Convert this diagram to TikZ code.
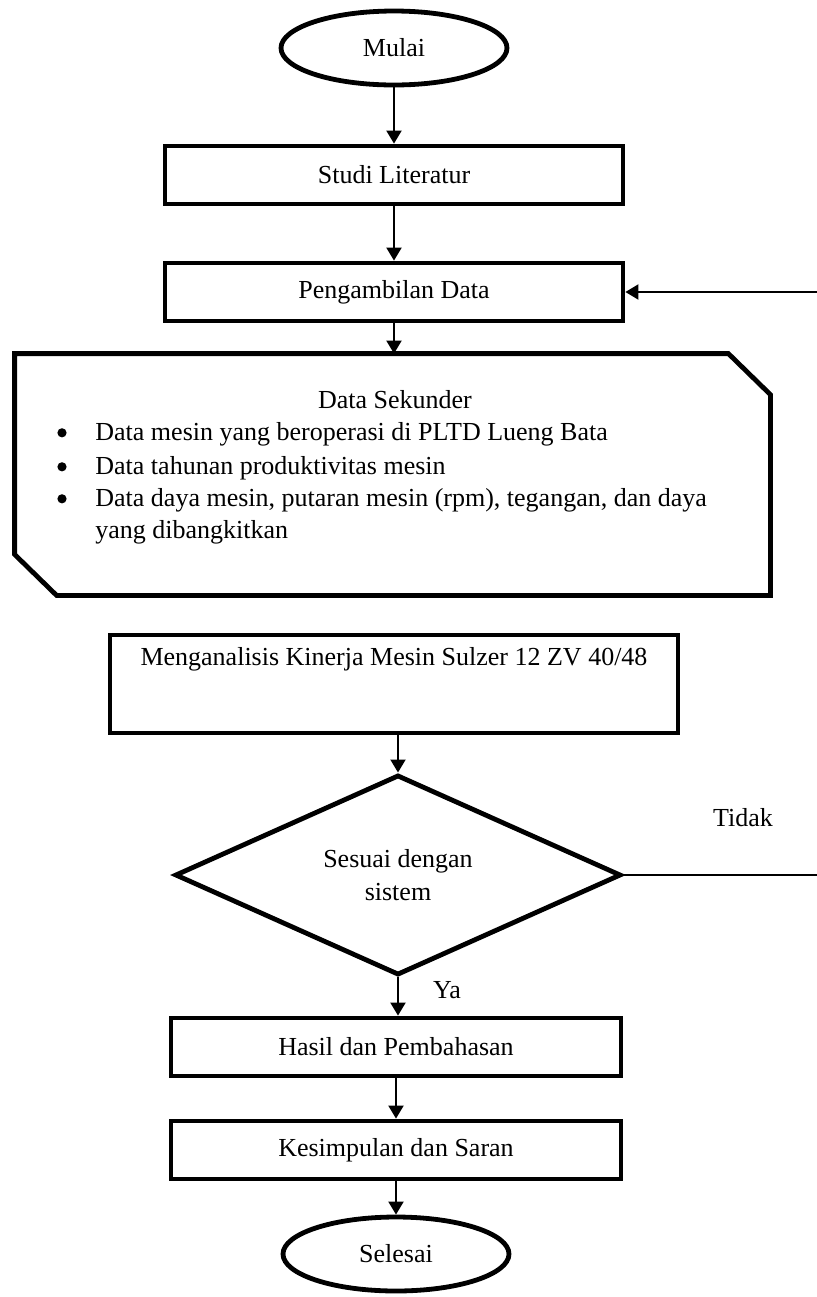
\documentclass[tikz,border=0pt]{standalone}
\usepackage{fontspec}
\setmainfont{Liberation Serif}
\usepackage{tikz}
\usetikzlibrary{arrows.meta,shapes.geometric}
\tikzset{
  terminal/.style={draw, line width=2.4pt, ellipse, minimum width=113pt, minimum height=37pt,
                   inner sep=0pt, align=center},
  process/.style={draw, line width=2.4pt, minimum width=229pt, minimum height=29pt,
                  inner sep=0pt, align=center},
  decision/.style={draw, line width=2.4pt, diamond, minimum width=223pt, minimum height=100pt,
                   inner sep=0pt, align=center},
  itemtext/.style={anchor=base west, inner sep=0pt},
  itemdot/.style={circle, fill, inner sep=0pt, minimum size=4.6pt},
  flowline/.style={line width=1pt},
}

\begin{document}
\begin{tikzpicture}[x=0.5pt, y=-0.5pt, font=\fontsize{13}{16.2}\selectfont,
    >={Triangle[width=7.5pt,length=6.5pt]}]
    \useasboundingbox (0,0) rectangle (817,1297);
    \node[terminal] (mulai) at (394,48) {Mulai};
    \node[process] (studi) at (394,175) {Studi Literatur};
    \node[process] (ambil) at (394,292) {Pengambilan Data};
    \node[minimum width=377.5pt, minimum height=120.5pt, inner sep=0pt] (data) at (392.5,474.5) {};
    \draw[line width=2.4pt] (data.north west) -- ([xshift=-21pt]data.north east)
        -- ([yshift=-20.5pt]data.north east) -- (data.south east)
        -- ([xshift=21pt]data.south west) -- ([yshift=20.5pt]data.south west) -- cycle;
    \node (sekunder) at (395,400) {Data Sekunder};
    \node[itemtext] (d1) at (95,440) {Data mesin yang beroperasi di PLTD Lueng Bata};
    \node[itemtext] (d2) at (95,474) {Data tahunan produktivitas mesin};
    \node[itemtext] (d3) at (95,506) {Data daya mesin, putaran mesin (rpm), tegangan, dan daya};
    \node[itemtext] (d4) at (95,538) {yang dibangkitkan};
    \foreach \n in {d1,d2,d3} { \node[itemdot] (b\n) at ([xshift=-16.5pt, yshift=3.6pt]\n.base west) {}; }
    \node[process, minimum width=284pt, minimum height=49pt, text height=8.5pt, text depth=27.5pt]
        (analisis) at (394,684) {Menganalisis Kinerja Mesin Sulzer 12 ZV 40/48};
    \node[decision] (sesuai) at (398,875) {Sesuai dengan\\sistem};
    \node[process, minimum width=225pt] (hasil) at (396,1047) {Hasil dan Pembahasan};
    \node[process, minimum width=225pt] (simpul) at (396,1150) {Kesimpulan dan Saran};
    \node[terminal] (selesai) at (396,1254) {Selesai};
    \node (ya) at (447,990) {Ya};
    \node (tidak) at (743,818) {Tidak};
    \coordinate (balik) at (817,292);
    \coordinate (keluar) at (817,875);
    \draw[flowline, ->] (mulai.south) -- (mulai.south |- studi.north);
    \draw[flowline, ->] (studi.south) -- (ambil.north);
    \draw[flowline, ->] (ambil.south) -- (ambil.south |- data.north);
    \draw[flowline, ->] (analisis.south -| sesuai.north) -- (sesuai.north);
    \draw[flowline, ->] (sesuai.south) -- (sesuai.south |- hasil.north);
    \draw[flowline, ->] (hasil.south) -- (simpul.north);
    \draw[flowline, ->] (simpul.south) -- (selesai.north);
    \draw[flowline, ->] (balik) -- (ambil.east);
    \draw[flowline] (sesuai.east) -- (keluar);
  \end{tikzpicture}
\end{document}
